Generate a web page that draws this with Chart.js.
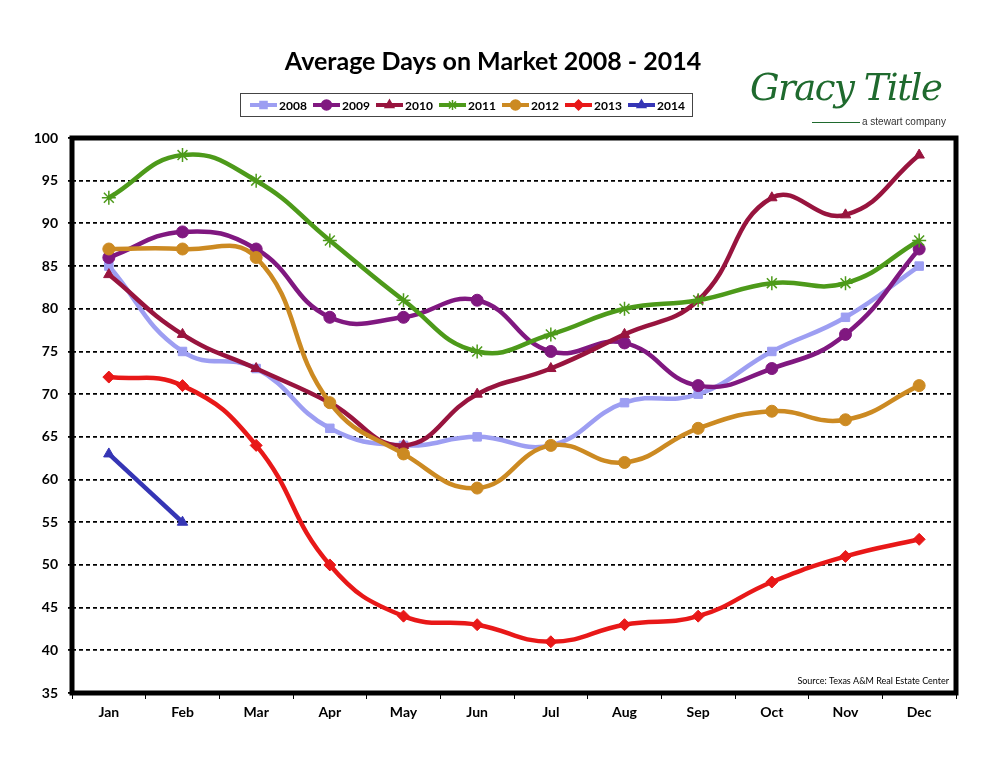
<!DOCTYPE html>
<html>
<head>
<meta charset="utf-8">
<script src="https://cdn.jsdelivr.net/npm/chart.js@4/dist/chart.umd.min.js"></script>
<style>
  body { margin: 0; background: #fff; }
  #wrap { position: relative; width: 994px; height: 768px; }
  #title { position: absolute; left: 0; width: 986px; top: 45px; text-align: center;
           font: bold 25px Lato, "Open Sans", sans-serif; color: #000; }
  #logo { position: absolute; left: 750px; top: 66px; font: italic 37px "DejaVu Serif", serif;
          color: #1f6a2e; letter-spacing: -1.5px; }
  #tag { position: absolute; left: 862px; top: 116px; font: 10px "Liberation Sans", Arial, sans-serif; color: #333; }
  #tagline { position: absolute; left: 812px; top: 122px; width: 48px; border-top: 1px solid #1f6a2e; }
</style>
</head>
<body>
<div id="wrap">
  <canvas id="chart" width="994" height="768"></canvas>
  <div id="title">Average Days on Market 2008 - 2014</div>
  <div id="logo">Gracy Title</div>
  <div id="tagline"></div>
  <div id="tag">a stewart company</div>
</div>
<script>
var months = ["Jan", "Feb", "Mar", "Apr", "May", "Jun", "Jul", "Aug", "Sep", "Oct", "Nov", "Dec"];
var years = ["2008", "2009", "2010", "2011", "2012", "2013", "2014"];
var days2008 = [85, 75, 73, 66, 64, 65, 64, 69, 70, 75, 79, 85];
var days2009 = [86, 89, 87, 79, 79, 81, 75, 76, 71, 73, 77, 87];
var days2010 = [84, 77, 73, 69, 64, 70, 73, 77, 81, 93, 91, 98];
var days2011 = [93, 98, 95, 88, 81, 75, 77, 80, 81, 83, 83, 88];
var days2012 = [87, 87, 86, 69, 63, 59, 64, 62, 66, 68, 67, 71];
var days2013 = [72, 71, 64, 50, 44, 43, 41, 43, 44, 48, 51, 53];
var days2014 = [63, 55];
var yTicks = [35, 40, 45, 50, 55, 60, 65, 70, 75, 80, 85, 90, 95, 100];

var allData = [days2008, days2009, days2010, days2011, days2012, days2013, days2014];
var colors = ["#9d9ef2", "#801880", "#98143e", "#4d9a1a", "#cc8a22", "#e81818", "#3535b5"];
var markers = ["rect", "circle", "triangle", "star", "circle", "rectRot", "triangle"];

var datasets = [];
for (var i = 0; i < years.length; i++) {
    datasets.push({
        label: years[i],
        data: allData[i],
        borderColor: colors[i],
        backgroundColor: colors[i],
        pointBackgroundColor: colors[i],
        pointBorderColor: colors[i],
        borderWidth: 4.5,
        pointStyle: markers[i],
        pointRadius: markers[i] == "star" ? 7 : 6,
        pointBorderWidth: markers[i] == "star" ? 1.5 : 1,
        tension: 0.45,
        fill: false,
        order: years.length - i
    });
}

// legend box + border + source note
var decorations = {
    id: "decorations",
    afterDraw: function (chart) {
        var ctx = chart.ctx;
        var a = chart.chartArea;
        ctx.save();
        // frame
        ctx.strokeStyle = "#000";
        ctx.lineWidth = 5;
        ctx.strokeRect(a.left, a.top, a.right - a.left, a.bottom - a.top);
        // source
        ctx.fillStyle = "#000";
        ctx.font = "9px Lato, sans-serif";
        ctx.textAlign = "right";
        ctx.textBaseline = "middle";
        ctx.fillText("Source: Texas A&M Real Estate Center", a.right - 7, a.bottom - 12);
        // legend
        ctx.lineWidth = 1;
        ctx.strokeStyle = "#444";
        ctx.strokeRect(240.5, 93.5, 452, 23);
        ctx.font = "bold 12px Lato, sans-serif";
        ctx.textAlign = "left";
        for (var i = 0; i < years.length; i++) {
            var x = 250 + i * 63;
            var y = 105;
            ctx.strokeStyle = colors[i];
            ctx.lineWidth = 4;
            ctx.beginPath();
            ctx.moveTo(x, y);
            ctx.lineTo(x + 27, y);
            ctx.stroke();
            ctx.fillStyle = colors[i];
            ctx.lineWidth = 1.5;
            Chart.helpers.drawPoint(ctx, {pointStyle: markers[i], radius: 5, rotation: 0, borderWidth: 1}, x + 13.5, y);
            ctx.fillStyle = "#000";
            ctx.fillText(years[i], x + 29, y + 1);
        }
        ctx.restore();
    }
};

var ctx = document.getElementById("chart");
var lineChart = new Chart(ctx, {
    type: "line",
    data: {labels: months, datasets: datasets},
    plugins: [decorations],
    options: {
        responsive: false,
        animation: false,
        layout: {padding: {top: 138, right: 38, left: 0, bottom: 0}},
        plugins: {legend: {display: false}, tooltip: {enabled: false}},
        scales: {
            x: {
                offset: true,
                grid: {offset: true, drawOnChartArea: false, color: "#000", tickLength: 6, lineWidth: 1},
                border: {display: false},
                ticks: {color: "#000", font: {family: "Lato", size: 14, weight: "bold"}, padding: 5},
                afterFit: function (scale) { scale.height = 75; }
            },
            y: {
                min: 35,
                max: 100,
                afterBuildTicks: function (scale) {
                    scale.ticks = yTicks.map(function (v) { return {value: v}; });
                },
                grid: {color: "#000", lineWidth: 1.8, tickLength: 4},
                border: {display: false, dash: [4, 3]},
                ticks: {color: "#000", font: {family: "Lato", size: 14, weight: "bold"}, padding: 10},
                afterFit: function (scale) { scale.width = 72; }
            }
        }
    }
});
</script>
</body>
</html>
